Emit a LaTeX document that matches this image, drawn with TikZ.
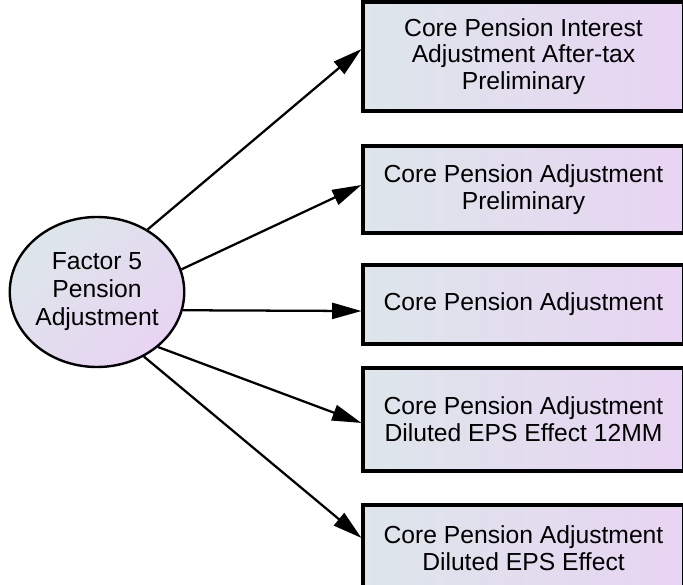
\documentclass[tikz,border=0pt]{standalone}
\usepackage{fontspec}
\setmainfont{Liberation Sans}
\usetikzlibrary{arrows.meta,shapes.geometric}
\definecolor{bluegrey}{RGB}{221,230,234}
\definecolor{lavender}{RGB}{232,212,243}
\tikzset{
    %Define standard arrow tip
    >={Triangle[length=22pt,width=12pt]},
    %Define style for boxes
    outbox/.style={
           rectangle,
           draw=black, line width=2.3pt,
           minimum width=240.75pt,
           font=\fontsize{18.5pt}{20pt}\selectfont,
           align=center,
           left color=bluegrey, right color=lavender
           },
    factor/.style={
           ellipse,
           draw=black, line width=1.8pt,
           minimum width=129pt,
           minimum height=112.5pt,
           inner sep=0pt,
           font=\fontsize{18.5pt}{21pt}\selectfont,
           align=center,
           left color=bluegrey, right color=lavender,
           shading angle=45
           },
    % Define arrow style
    pil/.style={
           ->,
           line width=1.7pt}
}
\begin{document}
\begin{tikzpicture}[x=0.75pt,y=-0.75pt]
\useasboundingbox (0,0) rectangle (683,585);

 %nodes
\node[factor](f5) at (97,292){Factor 5\\Pension\\Adjustment};
\node[outbox, minimum height=81.75pt](b1) at (523.5,56.5){Core Pension Interest\\Adjustment After-tax\\Preliminary};
\node[outbox, minimum height=65.25pt](b2) at (523.5,189.5){Core Pension Adjustment\\Preliminary};
\node[outbox, minimum height=59.25pt](b3) at (523.5,304.5){Core Pension Adjustment};
\node[outbox, minimum height=77.25pt](b4) at (523.5,419.5){Core Pension Adjustment\\Diluted EPS Effect 12MM};
\node[outbox, minimum height=65.25pt](b5) at (523.5,548.5){Core Pension Adjustment\\Diluted EPS Effect};

 %edges
\draw[pil] (f5.51.6) -- ([yshift=5.6pt]b1.west);
\draw[pil] (f5.15.3) -- ([yshift=3.4pt]b2.west);
\draw[pil] (f5.-12.5) -- ([yshift=-4.9pt]b3.west);
\draw[pil] (f5.-42) -- ([yshift=-2.6pt]b4.west);
\draw[pil] (f5.-54.7) -- ([yshift=7.9pt]b5.west);

\end{tikzpicture}
\end{document}
